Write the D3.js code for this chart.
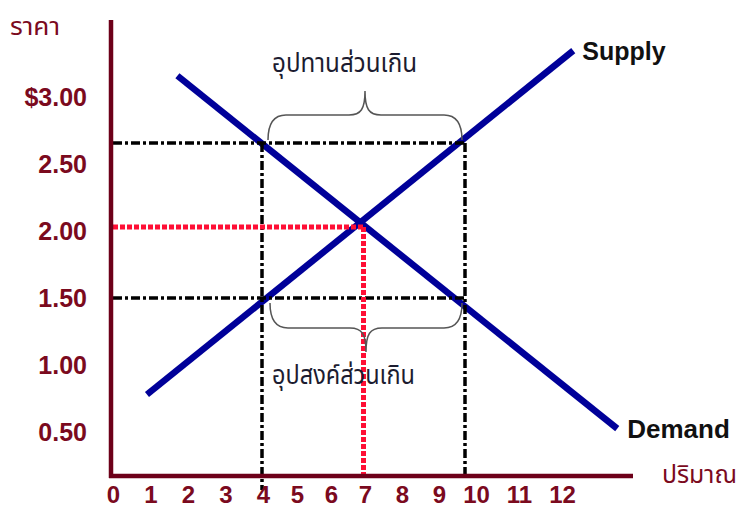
<!DOCTYPE html>
<html>
<head>
<meta charset="utf-8">
<script src="https://cdnjs.cloudflare.com/ajax/libs/d3/7.8.5/d3.min.js"></script>
<style>
  body { margin: 0; background: #fff; }
  svg { display: block; }
  .num { font-family: "Liberation Sans Narrow", "Liberation Sans", sans-serif; font-weight: bold; }
  .thai { font-family: Tahoma, "Noto Sans Thai", "Noto Looped Thai", "DejaVu Sans", sans-serif; }
</style>
</head>
<body>
<svg id="chart" width="739" height="507"></svg>
<script>
// quantity ticks and price ticks
var qTicks = [0, 1, 2, 3, 4, 5, 6, 7, 8, 9, 10, 11, 12];
var pTicks = [3.0, 2.5, 2.0, 1.5, 1.0, 0.5];

// supply and demand lines (end points)
var supplyQ = [0.6, 13.2];
var supplyP = [0.82, 3.05];
var demandQ = [1.5, 14.5];
var demandP = [2.9, 0.58];

// price floor 2.50 / price ceiling 1.50 / equilibrium
var highP = 2.5, lowP = 1.5;
var leftQ = 4, rightQ = 10;
var eqQ = 7, eqP = 2.0;

var svg = d3.select("#chart"),
    axisX = 111,
    axisY = 476;

var maroon = "#6d0019",
    labelRed = "#7b0a1e",
    blue = "#000099";

// scale used for the marks
var x = d3.scaleLinear().domain([4, 10]).range([262, 465]);
var y = d3.scaleLinear().domain([1.5, 2, 2.5]).range([298, 227, 143]);
// scales the tick labels are placed with (they are hand spaced in the picture)
var xTick = d3.scaleLinear().domain([0, 4, 7, 10, 12]).range([113, 263, 365, 476, 562]);
var yTick = d3.scaleLinear().domain([0.5, 3]).range([432, 97]);

function pts(qs, ps) {
    return qs.map(function(q, i) { return [q, ps[i]]; });
}
var line = d3.line()
    .x(function(d) { return x(d[0]); })
    .y(function(d) { return y(d[1]); });

// supply / demand
svg.append("path")
    .attr("d", line(pts(supplyQ, supplyP)))
    .attr("stroke", blue).attr("stroke-width", 6.5).attr("fill", "none");
svg.append("path")
    .attr("d", line(pts(demandQ, demandP)))
    .attr("stroke", blue).attr("stroke-width", 6.5).attr("fill", "none");

// black dash-dot guides
var guides = svg.append("g")
    .attr("stroke", "#000")
    .attr("stroke-width", 3.5)
    .attr("stroke-dasharray", "9,3,3,3");
[highP, lowP].forEach(function(p) {
    guides.append("line")
        .attr("x1", axisX + 2).attr("x2", x(rightQ))
        .attr("y1", y(p)).attr("y2", y(p));
});
guides.append("line")
    .attr("x1", x(leftQ)).attr("x2", x(leftQ))
    .attr("y1", y(highP)).attr("y2", axisY + 14);
guides.append("line")
    .attr("x1", x(rightQ)).attr("x2", x(rightQ))
    .attr("y1", y(highP)).attr("y2", axisY);

// red dotted equilibrium
var eq = svg.append("g")
    .attr("stroke", "#ff0f35")
    .attr("stroke-width", 5)
    .attr("stroke-dasharray", "5,2");
eq.append("line")
    .attr("x1", axisX + 2).attr("x2", x(eqQ))
    .attr("y1", y(eqP)).attr("y2", y(eqP));
eq.append("line")
    .attr("x1", x(eqQ)).attr("x2", x(eqQ))
    .attr("y1", y(eqP)).attr("y2", axisY);

// curly braces
function brace(x1, x2, yEnd, dir) {
    // dir -1 = tip points up, +1 = tip points down
    var yH = yEnd + dir * 25,
        yTip = yEnd + dir * 49,
        xm = (x1 + x2) / 2,
        r = 18;
    var p = d3.path();
    p.moveTo(x1, yEnd);
    p.quadraticCurveTo(x1, yH, x1 + r, yH);
    p.lineTo(xm - 16, yH);
    p.bezierCurveTo(xm - 4, yH, xm, yH + dir * 6, xm, yTip);
    p.bezierCurveTo(xm, yH + dir * 6, xm + 4, yH, xm + 16, yH);
    p.lineTo(x2 - r, yH);
    p.quadraticCurveTo(x2, yH, x2, yEnd);
    return p.toString();
}
svg.append("path")
    .attr("d", brace(x(leftQ) + 6, x(rightQ) - 3, y(highP) - 3, -1))
    .attr("fill", "none").attr("stroke", "#555").attr("stroke-width", 1.5);
svg.append("path")
    .attr("d", brace(x(leftQ) + 8, x(rightQ) - 3, y(lowP) + 5, 1))
    .attr("fill", "none").attr("stroke", "#555").attr("stroke-width", 1.5);

// annotations
svg.append("text").attr("class", "thai")
    .attr("x", 272).attr("y", 72)
    .attr("font-size", 26).attr("fill", "#1c1c30")
    .attr("textLength", 145).attr("lengthAdjust", "spacingAndGlyphs")
    .text("อุปทานส่วนเกิน");
svg.append("text").attr("class", "thai")
    .attr("x", 272).attr("y", 384)
    .attr("font-size", 26).attr("fill", "#1c1c30")
    .attr("textLength", 143).attr("lengthAdjust", "spacingAndGlyphs")
    .text("อุปสงค์ส่วนเกิน");

svg.append("text").attr("class", "num")
    .attr("x", x(supplyQ[1]) + 9).attr("y", y(supplyP[1]) + 9)
    .attr("font-size", 25).attr("fill", "#111")
    .text("Supply");
svg.append("text").attr("class", "num")
    .attr("x", x(demandQ[1]) + 10).attr("y", y(demandP[1]) + 9)
    .attr("font-size", 26).attr("fill", "#111")
    .text("Demand");

// axes
svg.append("line")
    .attr("x1", axisX).attr("x2", axisX)
    .attr("y1", 20).attr("y2", axisY + 2)
    .attr("stroke", maroon).attr("stroke-width", 4.5);
svg.append("line")
    .attr("x1", axisX - 2).attr("x2", 633)
    .attr("y1", axisY).attr("y2", axisY)
    .attr("stroke", maroon).attr("stroke-width", 4.5);

var yAxis = d3.axisLeft(yTick)
    .tickValues(pTicks)
    .tickSize(0)
    .tickPadding(0)
    .tickFormat(function(d, i) { return (i === 0 ? "$" : "") + d3.format(".2f")(d); });
svg.append("g")
    .attr("transform", "translate(87,0)")
    .call(yAxis)
    .call(function(g) { g.select(".domain").remove(); })
    .selectAll("text")
    .attr("class", "num")
    .attr("font-size", 25)
    .attr("fill", labelRed);

var xAxis = d3.axisBottom(xTick)
    .tickValues(qTicks)
    .tickSize(0)
    .tickPadding(0)
    .tickFormat(d3.format("d"));
svg.append("g")
    .attr("transform", "translate(0,486)")
    .call(xAxis)
    .call(function(g) { g.select(".domain").remove(); })
    .selectAll("text")
    .attr("class", "num")
    .attr("font-size", 24)
    .attr("fill", labelRed);

svg.append("text").attr("class", "thai")
    .attr("x", 10).attr("y", 35)
    .attr("font-size", 24).attr("fill", labelRed)
    .attr("textLength", 50).attr("lengthAdjust", "spacingAndGlyphs")
    .text("ราคา");
svg.append("text").attr("class", "thai")
    .attr("x", 662).attr("y", 483)
    .attr("font-size", 24).attr("fill", labelRed)
    .attr("textLength", 75).attr("lengthAdjust", "spacingAndGlyphs")
    .text("ปริมาณ");
</script>
</body>
</html>
